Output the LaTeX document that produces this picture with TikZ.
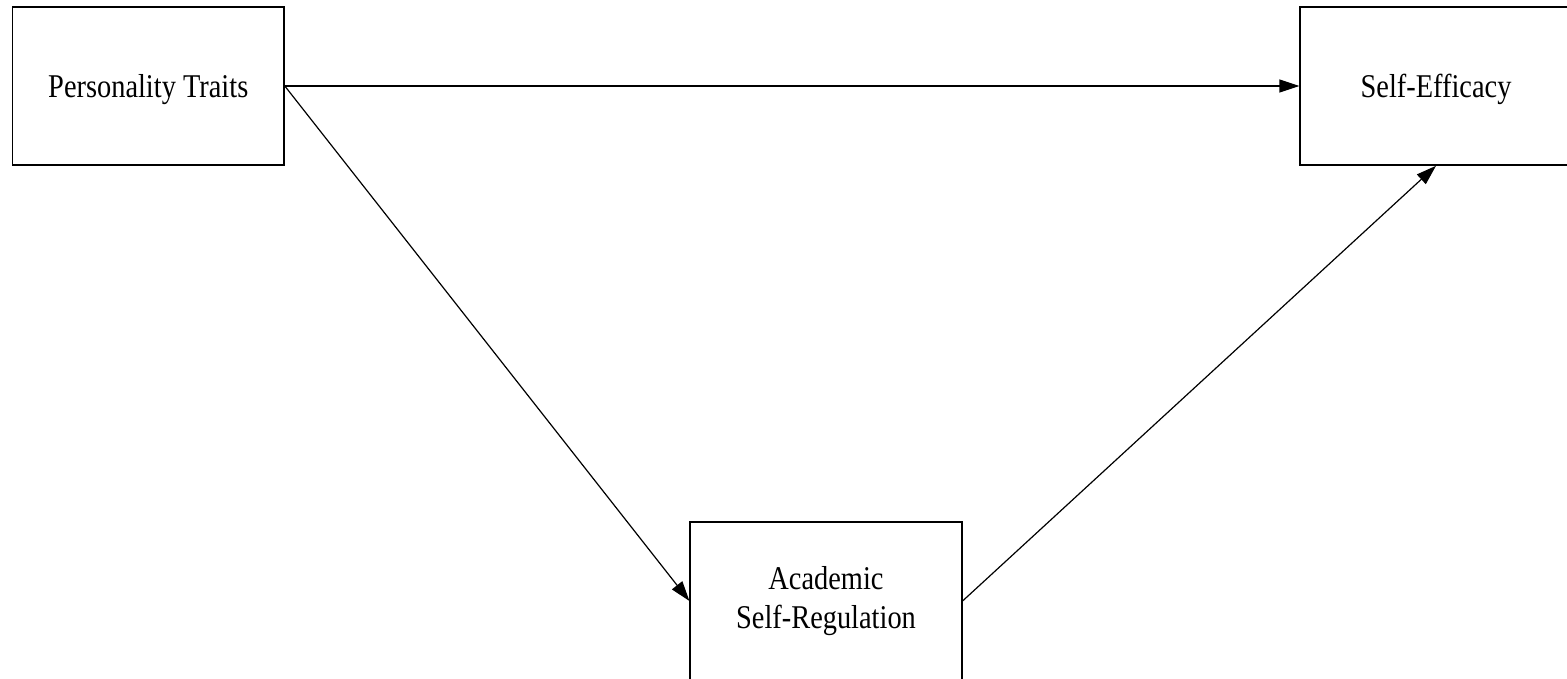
\documentclass[tikz,border=0pt]{standalone}
\usepackage{fontspec}
\setmainfont[FakeStretch=0.855]{Liberation Serif}
\usetikzlibrary{arrows.meta}
\begin{document}
\begin{tikzpicture}[x=0.5pt,y=-0.5pt,
  varbox/.style={draw, line width=0.8pt, minimum width=135.75pt, minimum height=79pt,
    inner sep=0pt, align=center, font=\fontsize{16.6}{19.8}\selectfont},
  oneline/.style={text depth=0pt},
  path/.style={line width=0.6pt, -{Triangle[length=10pt,width=6.5pt]}}]
  \useasboundingbox (0,0) rectangle (1567,679);
  \node[varbox,oneline] (pt)  at (148.25,86) {Personality Traits};
  \node[varbox,oneline] (se)  at (1436,86)   {Self-Efficacy};
  \node[varbox] (asr) at (826,601)   {Academic\\Self-Regulation};
  \draw[path] (pt.east) -- (se.west);
  \draw[path] (pt.east) -- (asr.west);
  \draw[path] (asr.east) -- (se.south);
\end{tikzpicture}
\end{document}
